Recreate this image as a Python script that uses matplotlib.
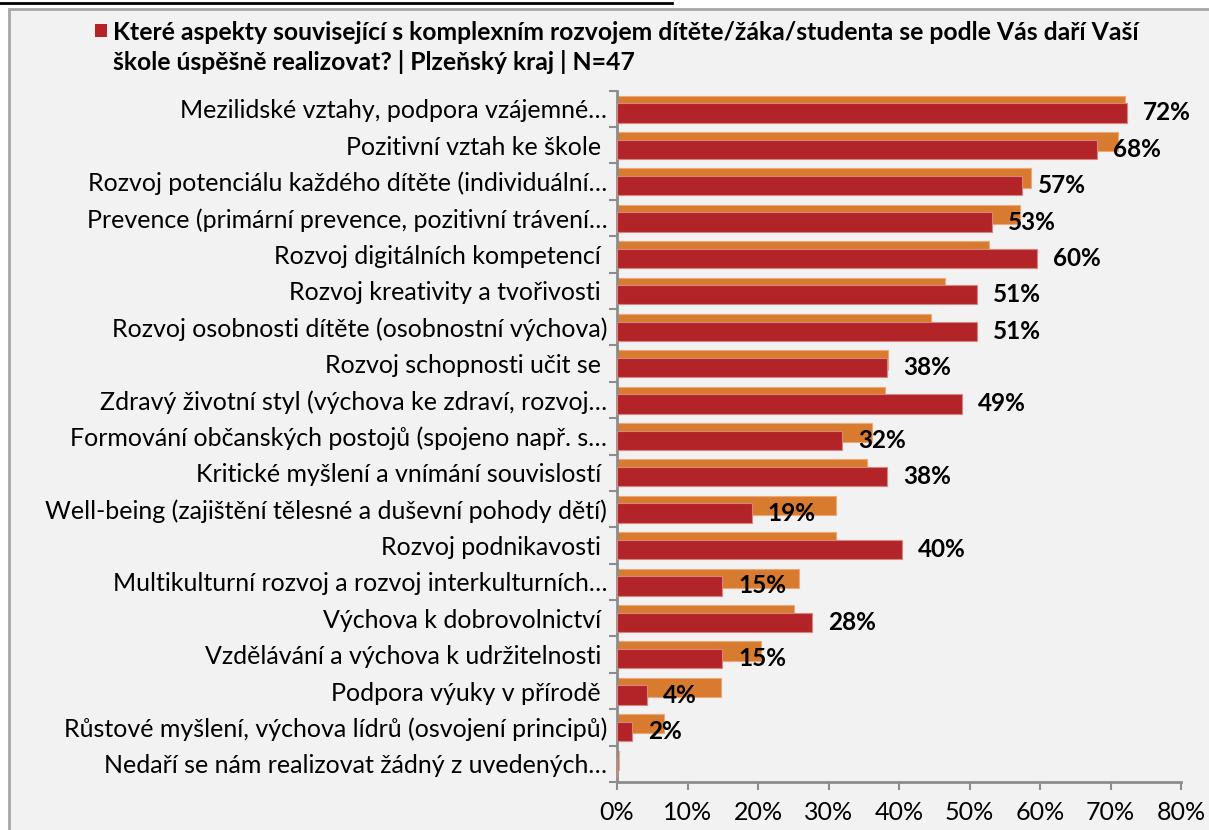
import matplotlib.pyplot as plt
from matplotlib.patches import Rectangle
from matplotlib.lines import Line2D

plt.rcParams['font.family'] = ['Lato', 'DejaVu Sans']

kategorie = [
    "Mezilidské vztahy, podpora vzájemné…",
    "Pozitivní vztah ke škole ",
    "Rozvoj potenciálu každého dítěte (individuální…",
    "Prevence (primární prevence, pozitivní trávení…",
    "Rozvoj digitálních kompetencí ",
    "Rozvoj kreativity a tvořivosti ",
    "Rozvoj osobnosti dítěte (osobnostní výchova)",
    "Rozvoj schopnosti učit se ",
    "Zdravý životní styl (výchova ke zdraví, rozvoj…",
    "Formování občanských postojů (spojeno např. s…",
    "Kritické myšlení a vnímání souvislostí ",
    "Well-being (zajištění tělesné a duševní pohody dětí)",
    "Rozvoj podnikavosti ",
    "Multikulturní rozvoj a rozvoj interkulturních…",
    "Výchova k dobrovolnictví ",
    "Vzdělávání a výchova k udržitelnosti ",
    "Podpora výuky v přírodě ",
    "Růstové myšlení, výchova lídrů (osvojení principů)",
    "Nedaří se nám realizovat žádný z uvedených…",
]

# kraj (cervena) - podil odpovedi v %
plzen = [72.3, 68.1, 57.4, 53.2, 59.6, 51.1, 51.1, 38.3, 48.9, 31.9,
         38.3, 19.1, 40.4, 14.9, 27.7, 14.9, 4.3, 2.1, 0.0]
# srovnani (oranzova)
celkem = [72.1, 71.1, 58.7, 57.2, 52.7, 46.5, 44.5, 38.4, 38.0, 36.1,
          35.4, 31.0, 31.0, 25.8, 25.1, 20.4, 14.8, 6.6, 0.3]

nadpis1 = "Které aspekty související s komplexním rozvojem dítěte/žáka/studenta se podle Vás daří Vaší"
nadpis2 = "škole úspěšně realizovat? | Plzeňský kraj | N=47"

oranzova = '#D97B2F'
cervena = '#B22428'
seda = '#8C8C8C'

fig = plt.figure(figsize=(12.09, 8.30), dpi=100)
fig.patch.set_facecolor('white')

# ramecek grafu
ramecek = Rectangle((9 / 1209, -0.01), 1.02, 1 - 9 / 830 + 0.01,
                    transform=fig.transFigure, facecolor='#F2F2F2',
                    edgecolor='#A6A6A6', linewidth=2, zorder=-5)
fig.patches.append(ramecek)
# kus podtrzeneho textu nahore
fig.lines.append(Line2D([0, 672 / 1209], [1 - 3 / 830, 1 - 3 / 830],
                        transform=fig.transFigure, color='black', lw=2))

ax = fig.add_axes([617 / 1209, 48 / 830, (1181 - 617) / 1209, (782 - 90.7) / 830])
ax.set_facecolor('none')
ax.set_zorder(2)

y = list(range(len(kategorie)))
vyska = 0.53
ax.barh([i - 0.1 for i in y], celkem, height=vyska, color=oranzova,
        edgecolor='#EBA979', linewidth=0.8, zorder=2)
ax.barh([i + 0.11 for i in y], plzen, height=vyska, color=cervena,
        edgecolor='#D9847F', linewidth=0.8, zorder=3)

for i, v in enumerate(plzen):
    if v > 0:
        ax.annotate(f"{round(v):d}%", (v, i + 0.11), xytext=(11.5, 0),
                    textcoords='offset points', va='center', ha='left',
                    fontsize=17.5, fontweight='bold', color='black', zorder=4)

ax.set_xlim(0, 80)
ax.set_ylim(len(kategorie) - 0.5, -0.5)
ax.set_xticks(range(0, 81, 10))
ax.set_xticklabels([f"{t}%" for t in range(0, 81, 10)], fontsize=18)
ax.set_yticks(y)
ax.set_yticklabels(kategorie, fontsize=18)
ax.set_yticks([i - 0.5 for i in range(len(kategorie) + 1)], minor=True)
ax.tick_params(axis='y', which='major', length=0, pad=7)
ax.tick_params(axis='y', which='minor', length=6, width=1.5, color=seda)
ax.tick_params(axis='x', which='major', length=6, width=1.5, color=seda, pad=8)

for s in ['top', 'right']:
    ax.spines[s].set_visible(False)
for s in ['left', 'bottom']:
    ax.spines[s].set_color(seda)
    ax.spines[s].set_linewidth(2)

# legenda
fig.patches.append(Rectangle((95 / 1209, 1 - 37 / 830), 12 / 1209, 13 / 830,
                             transform=fig.transFigure, facecolor=cervena,
                             edgecolor='none'))
fig.text(113 / 1209, 1 - 32 / 830, nadpis1, fontsize=17.8, fontweight='bold',
         va='center', ha='left')
fig.text(113 / 1209, 1 - 62 / 830, nadpis2, fontsize=17.8, fontweight='bold',
         va='center', ha='left')

fig.savefig('out.png', dpi=100, facecolor=fig.get_facecolor())
